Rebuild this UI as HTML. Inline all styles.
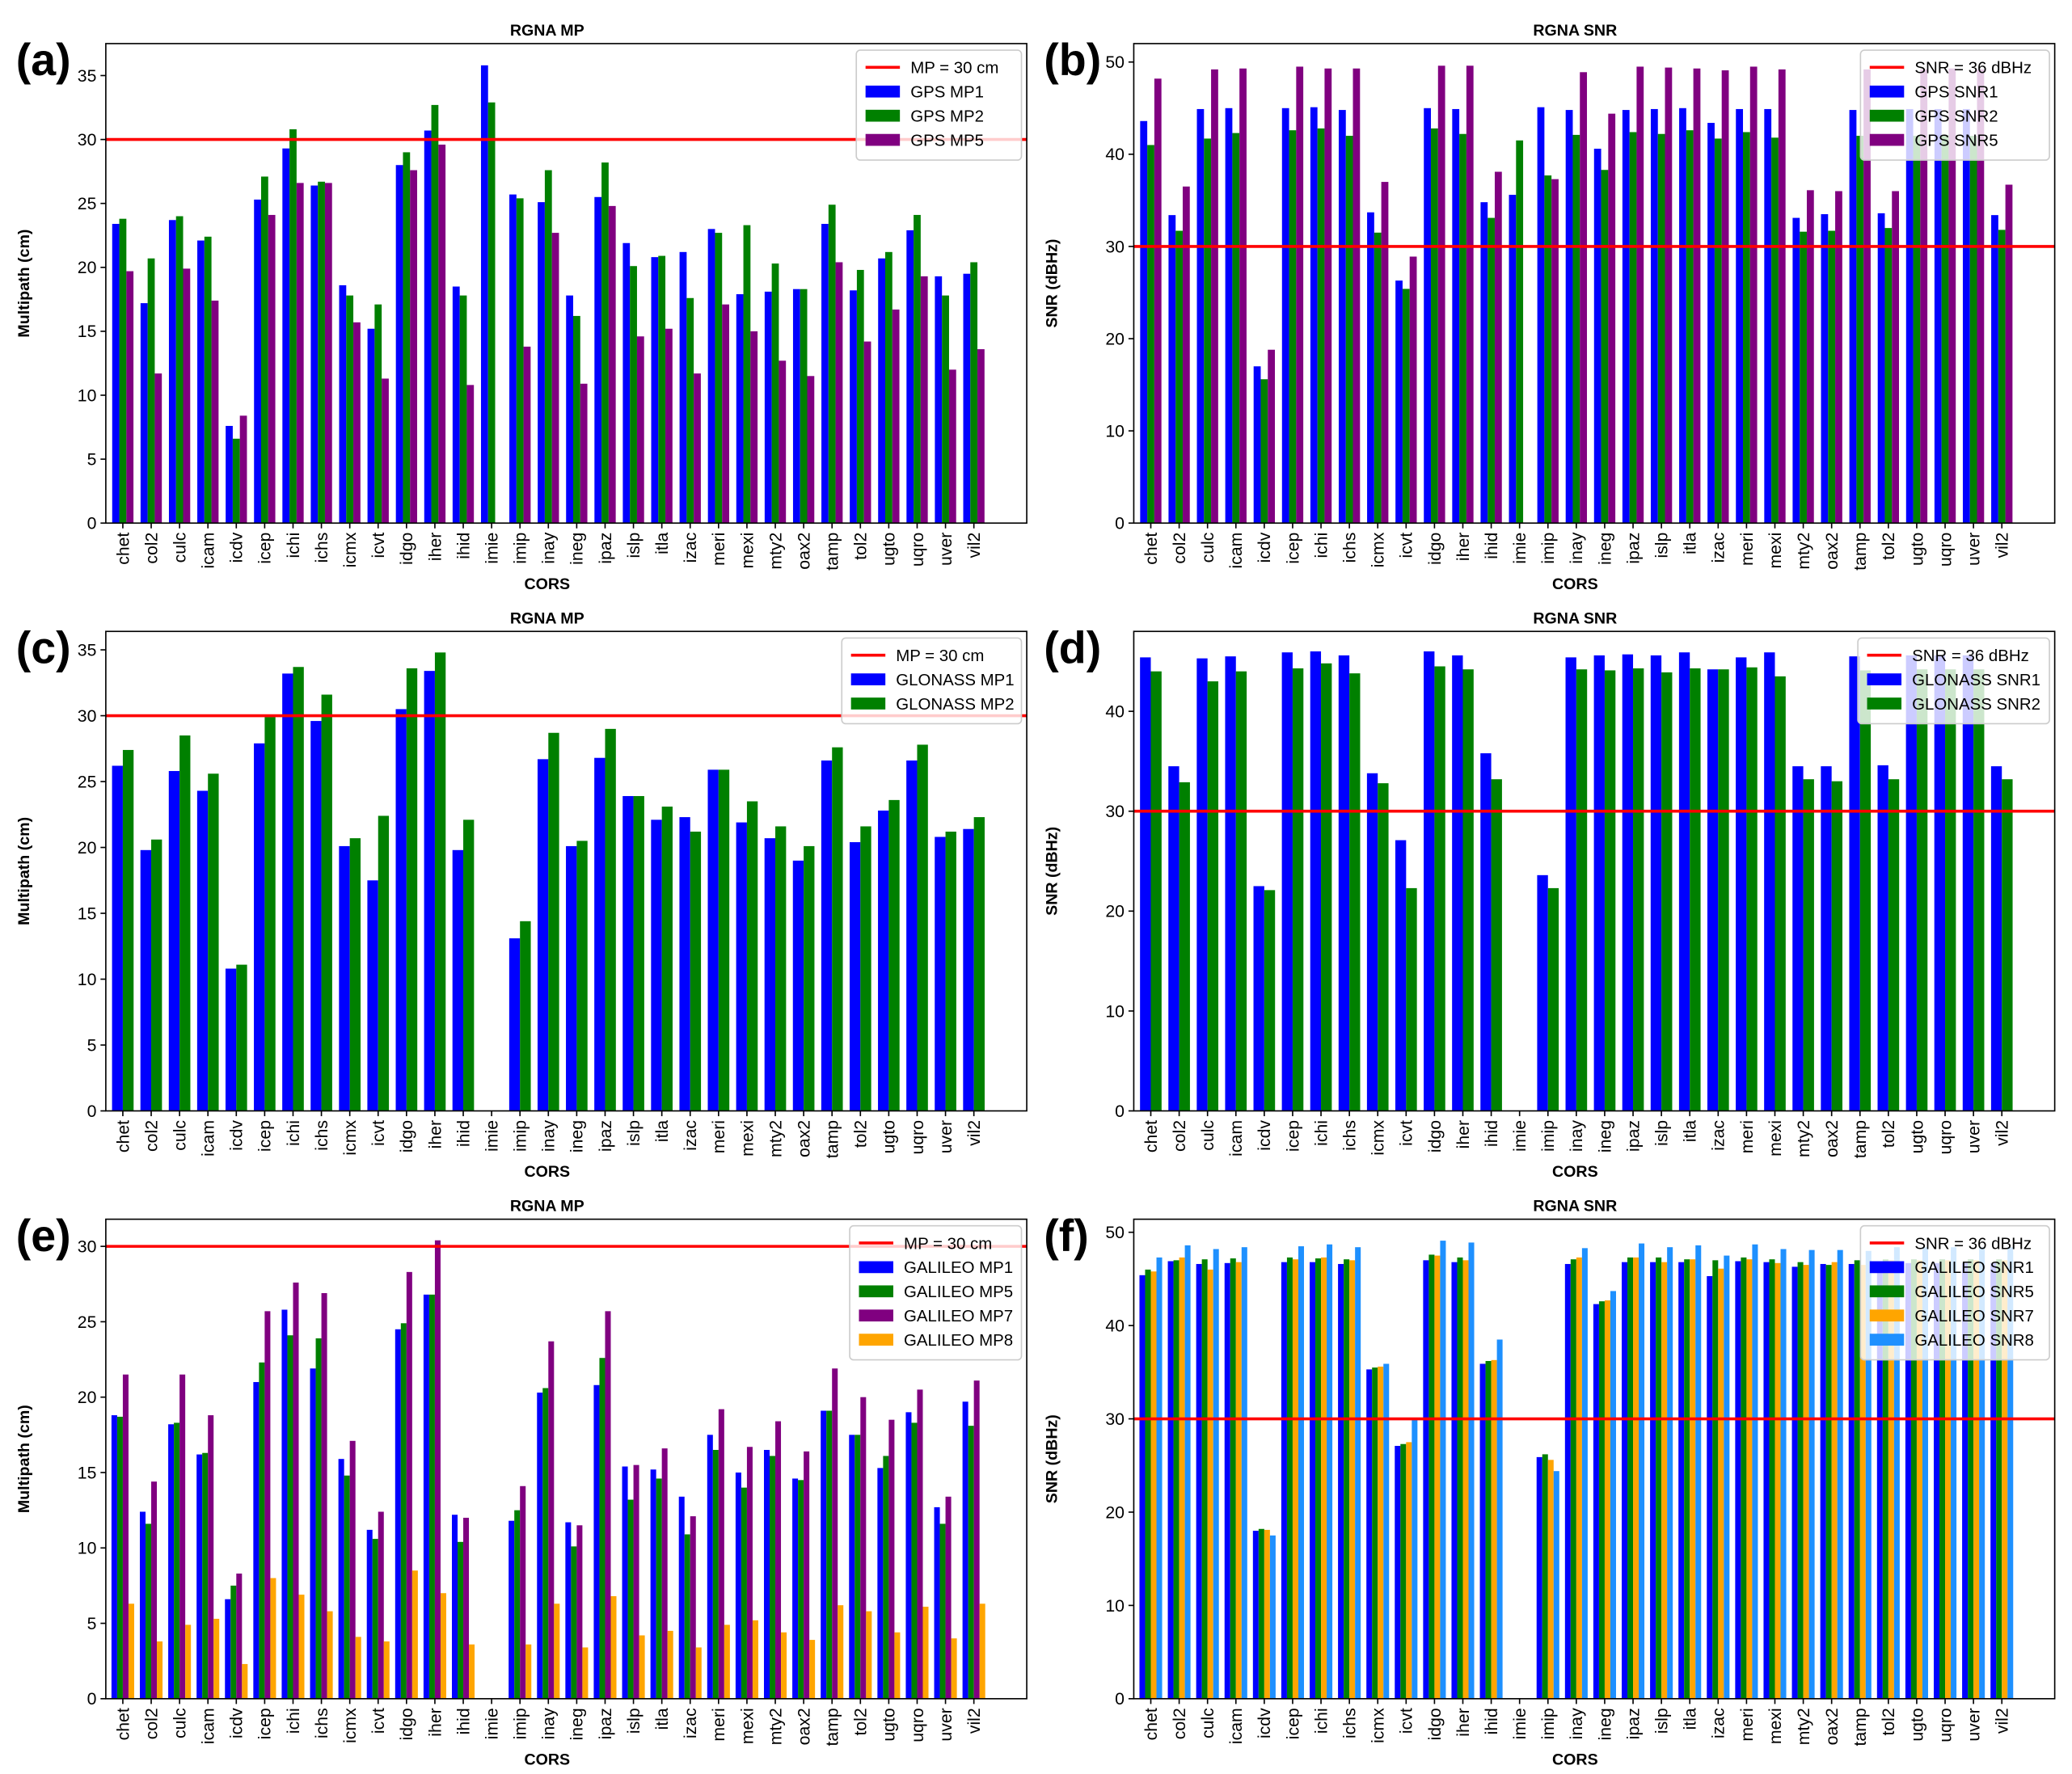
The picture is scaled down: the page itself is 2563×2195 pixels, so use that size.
<!DOCTYPE html>
<html><head><meta charset="utf-8"><style>
html,body{margin:0;padding:0;background:#fff}
svg{display:block}
text{font-family:"Liberation Sans","DejaVu Sans",sans-serif}
</style></head><body>
<svg id="fig" xmlns="http://www.w3.org/2000/svg" width="2563" height="2195" viewBox="0 0 1568 1343"></svg>
<script>
const stations = ["chet","col2","culc","icam","icdv","icep","ichi","ichs","icmx","icvt","idgo","iher","ihid","imie","imip","inay","ineg","ipaz","islp","itla","izac","meri","mexi","mty2","oax2","tamp","tol2","ugto","uqro","uver","vil2"];
const gpsMP1 = [23.4,17.2,23.7,22.1,7.6,25.3,29.3,26.4,18.6,15.2,28.0,30.7,18.5,35.8,25.7,25.1,17.8,25.5,21.9,20.8,21.2,23.0,17.9,18.1,18.3,23.4,18.2,20.7,22.9,19.3,19.5];
const gpsMP2 = [23.8,20.7,24.0,22.4,6.6,27.1,30.8,26.7,17.8,17.1,29.0,32.7,17.8,32.9,25.4,27.6,16.2,28.2,20.1,20.9,17.6,22.7,23.3,20.3,18.3,24.9,19.8,21.2,24.1,17.8,20.4];
const gpsMP5 = [19.7,11.7,19.9,17.4,8.4,24.1,26.6,26.6,15.7,11.3,27.6,29.6,10.8,0,13.8,22.7,10.9,24.8,14.6,15.2,11.7,17.1,15.0,12.7,11.5,20.4,14.2,16.7,19.3,12.0,13.6];
const gpsSNR1 = [43.6,33.4,44.9,45.0,17.0,45.0,45.1,44.8,33.7,26.3,45.0,44.9,34.8,35.6,45.1,44.8,40.6,44.8,44.9,45.0,43.4,44.9,44.9,33.1,33.5,44.8,33.6,44.9,44.9,44.9,33.4];
const gpsSNR2 = [41.0,31.7,41.7,42.3,15.6,42.6,42.8,42.0,31.5,25.4,42.8,42.2,33.1,41.5,37.7,42.1,38.3,42.4,42.2,42.6,41.7,42.4,41.8,31.6,31.7,42.0,32.0,42.0,42.1,42.0,31.8];
const gpsSNR5 = [48.2,36.5,49.2,49.3,18.8,49.5,49.3,49.3,37.0,28.9,49.6,49.6,38.1,0,37.3,48.9,44.4,49.5,49.4,49.3,49.1,49.5,49.2,36.1,36.0,49.2,36.0,49.2,49.3,49.2,36.7];
const gloMP1 = [26.2,19.8,25.8,24.3,10.8,27.9,33.2,29.6,20.1,17.5,30.5,33.4,19.8,0,13.1,26.7,20.1,26.8,23.9,22.1,22.3,25.9,21.9,20.7,19.0,26.6,20.4,22.8,26.6,20.8,21.4];
const gloMP2 = [27.4,20.6,28.5,25.6,11.1,29.9,33.7,31.6,20.7,22.4,33.6,34.8,22.1,0,14.4,28.7,20.5,29.0,23.9,23.1,21.2,25.9,23.5,21.6,20.1,27.6,21.6,23.6,27.8,21.2,22.3];
const gloSNR1 = [45.4,34.5,45.3,45.5,22.5,45.9,46.0,45.6,33.8,27.1,46.0,45.6,35.8,0,23.6,45.4,45.6,45.7,45.6,45.9,44.2,45.4,45.9,34.5,34.5,45.5,34.6,45.6,45.6,45.6,34.5];
const gloSNR2 = [44.0,32.9,43.0,44.0,22.1,44.3,44.8,43.8,32.8,22.3,44.5,44.2,33.2,0,22.3,44.2,44.1,44.3,43.9,44.3,44.2,44.4,43.5,33.2,33.0,44.1,33.2,44.2,44.2,44.2,33.2];
const galMP1 = [18.8,12.4,18.2,16.2,6.6,21.0,25.8,21.9,15.9,11.2,24.5,26.8,12.2,0,11.8,20.3,11.7,20.8,15.4,15.2,13.4,17.5,15.0,16.5,14.6,19.1,17.5,15.3,19.0,12.7,19.7];
const galMP5 = [18.7,11.6,18.3,16.3,7.5,22.3,24.1,23.9,14.8,10.6,24.9,26.8,10.4,0,12.5,20.6,10.1,22.6,13.2,14.6,10.9,16.5,14.0,16.1,14.5,19.1,17.5,16.1,18.3,11.6,18.1];
const galMP7 = [21.5,14.4,21.5,18.8,8.3,25.7,27.6,26.9,17.1,12.4,28.3,30.4,12.0,0,14.1,23.7,11.5,25.7,15.5,16.6,12.1,19.2,16.7,18.4,16.4,21.9,20.0,18.5,20.5,13.4,21.1];
const galMP8 = [6.3,3.8,4.9,5.3,2.3,8.0,6.9,5.8,4.1,3.8,8.5,7.0,3.6,0,3.6,6.3,3.4,6.8,4.2,4.5,3.4,4.9,5.2,4.4,3.9,6.2,5.8,4.4,6.1,4.0,6.3];
const galSNR1 = [45.4,46.9,46.6,46.7,18.0,46.8,46.8,46.6,35.3,27.1,47.0,46.8,35.9,0,25.9,46.6,42.3,46.8,46.8,46.8,45.3,46.9,46.8,46.3,46.6,46.6,46.7,46.7,46.7,46.7,46.7];
const galSNR5 = [46.0,47.0,47.1,47.2,18.2,47.3,47.2,47.1,35.5,27.3,47.6,47.3,36.2,0,26.2,47.1,42.6,47.3,47.3,47.1,47.0,47.3,47.1,46.8,46.5,47.0,47.1,47.1,47.1,47.1,47.1];
const galSNR7 = [45.8,47.3,46.0,46.8,18.1,47.1,47.3,47.0,35.6,27.5,47.5,47.0,36.3,0,25.6,47.3,42.7,47.3,46.8,47.1,46.1,47.1,46.7,46.5,46.8,46.5,47.0,47.0,47.0,47.0,47.0];
const galSNR8 = [47.3,48.6,48.2,48.4,17.5,48.5,48.7,48.4,35.9,29.9,49.1,48.9,38.5,0,24.4,48.3,43.7,48.8,48.4,48.6,47.5,48.7,48.2,48.1,48.1,48.0,48.4,48.4,48.4,48.4,48.4];
const yTicksMP = [0,5,10,15,20,25,30,35];
const yTicksSNR = [0,10,20,30,40,50];

const NS="http://www.w3.org/2000/svg";
const fig=document.getElementById('fig');
function mk(tag,attrs,parent,txt){const e=document.createElementNS(NS,tag);for(const k in attrs)e.setAttribute(k,attrs[k]);if(txt!==undefined)e.textContent=txt;(parent||fig).appendChild(e);return e;}

function panel(o){
  const g=mk('g',{});
  
  
  const L=o.left,R=o.left+697,T=o.top,B=o.top+363;
  const C=L+334;
  const sp=21.47;
  const xs=i=>L+(i+0.6)*sp;
  const ys=v=>B-(v/o.ymax)*(B-T);
  const n=o.series.length, bw=(n===4?0.2:(n===3?0.25:0.38))*sp;
  o.series.forEach((s,si)=>{
    s.values.forEach((v,i)=>{
      if(!v)return;
      const cx=xs(i)+(si-(n-1)/2)*bw;
      const r=mk('rect',{x:cx-bw/2,y:ys(v),width:bw,height:B-ys(v),fill:s.color},g);
      
      
    });
  });
  const th=mk('line',{x1:L,x2:R,y1:ys(30),y2:ys(30),stroke:'#ff0000','stroke-width':2.2},g);
  
  
  mk('rect',{x:L,y:T,width:R-L,height:B-T,fill:'none',stroke:'#000','stroke-width':1},g);
  o.yticks.forEach(t=>{
    if(t>o.ymax)return;
    const y=ys(t);
    mk('line',{x1:L-4,x2:L,y1:y,y2:y,stroke:'#000'},g);
    const tl=mk('text',{x:L-7,y:y+4.5,'font-size':13,'text-anchor':'end'},g,String(t));
    
    
  });
  stations.forEach((s,i)=>{
    const x=xs(i);
    mk('line',{x1:x,x2:x,y1:B,y2:B+4,stroke:'#000'},g);
    const tl=mk('text',{x:0,y:0,'font-size':13,'text-anchor':'end',transform:`translate(${x+4.5},${B+7}) rotate(-90)`},g,s);
    
    
  });
  const tt=mk('text',{x:C,y:T-6,'font-size':12,'font-weight':'bold','text-anchor':'middle'},g,o.title);
  
  
  const xl=mk('text',{x:C,y:B+50,'font-size':12,'font-weight':'bold','text-anchor':'middle'},g,'CORS');
  
  
  const yl=mk('text',{x:0,y:0,'font-size':12,'font-weight':'bold','text-anchor':'middle',transform:`translate(${L-58},${(T+B)/2}) rotate(-90)`},g,o.ylabel);
  
  
  const pl=mk('text',{x:L-68,y:T+24,'font-size':34,'font-weight':'bold'},g,o.letter);
  
  
  const items=[{label:o.thLabel,color:'#ff0000',line:true}].concat(o.series.map(s=>({label:s.label,color:s.color})));
  const lw=o.legW, lh=10+items.length*18.3;
  const lx=R-4-lw, ly=T+5;
  const lg=mk('g',{},g);
  
  
  mk('rect',{x:lx,y:ly,width:lw,height:lh,rx:3,fill:'#fff','fill-opacity':0.8,stroke:'#ccc'},lg);
  items.forEach((it,k)=>{
    const cy=ly+13+k*18.3;
    if(it.line) mk('line',{x1:lx+7,x2:lx+33,y1:cy,y2:cy,stroke:it.color,'stroke-width':2.2},lg);
    else mk('rect',{x:lx+7,y:cy-4.5,width:26,height:9,fill:it.color},lg);
    const et=mk('text',{x:lx+41,y:cy+4.5,'font-size':12.5},lg,it.label);
    
    
  });
}

const B='#0000ff',G='#008000',P='#800080',O='#ffa500',S='#1e90ff';
panel({name:'panel-a-gps-mp',letter:'(a)',left:80,top:33,ymax:37.5,yticks:yTicksMP,title:'RGNA MP',ylabel:'Multipath (cm)',thLabel:'MP = 30 cm',legW:125,
  series:[{key:'mp1',label:'GPS MP1',color:B,values:gpsMP1},{key:'mp2',label:'GPS MP2',color:G,values:gpsMP2},{key:'mp5',label:'GPS MP5',color:P,values:gpsMP5}]});
panel({name:'panel-b-gps-snr',letter:'(b)',left:858,top:33,ymax:52,yticks:yTicksSNR,title:'RGNA SNR',ylabel:'SNR (dBHz)',thLabel:'SNR = 36 dBHz',legW:143,
  series:[{key:'snr1',label:'GPS SNR1',color:B,values:gpsSNR1},{key:'snr2',label:'GPS SNR2',color:G,values:gpsSNR2},{key:'snr5',label:'GPS SNR5',color:P,values:gpsSNR5}]});
panel({name:'panel-c-glonass-mp',letter:'(c)',left:80,top:478,ymax:36.4,yticks:yTicksMP,title:'RGNA MP',ylabel:'Multipath (cm)',thLabel:'MP = 30 cm',legW:136,
  series:[{key:'mp1',label:'GLONASS MP1',color:B,values:gloMP1},{key:'mp2',label:'GLONASS MP2',color:G,values:gloMP2}]});
panel({name:'panel-d-glonass-snr',letter:'(d)',left:858,top:478,ymax:48,yticks:yTicksSNR,title:'RGNA SNR',ylabel:'SNR (dBHz)',thLabel:'SNR = 36 dBHz',legW:145,
  series:[{key:'snr1',label:'GLONASS SNR1',color:B,values:gloSNR1},{key:'snr2',label:'GLONASS SNR2',color:G,values:gloSNR2}]});
panel({name:'panel-e-galileo-mp',letter:'(e)',left:80,top:923,ymax:31.8,yticks:yTicksMP,title:'RGNA MP',ylabel:'Multipath (cm)',thLabel:'MP = 30 cm',legW:130,
  series:[{key:'mp1',label:'GALILEO MP1',color:B,values:galMP1},{key:'mp5',label:'GALILEO MP5',color:G,values:galMP5},{key:'mp7',label:'GALILEO MP7',color:P,values:galMP7},{key:'mp8',label:'GALILEO MP8',color:O,values:galMP8}]});
panel({name:'panel-f-galileo-snr',letter:'(f)',left:858,top:923,ymax:51.4,yticks:yTicksSNR,title:'RGNA SNR',ylabel:'SNR (dBHz)',thLabel:'SNR = 36 dBHz',legW:143,
  series:[{key:'snr1',label:'GALILEO SNR1',color:B,values:galSNR1},{key:'snr5',label:'GALILEO SNR5',color:G,values:galSNR5},{key:'snr7',label:'GALILEO SNR7',color:O,values:galSNR7},{key:'snr8',label:'GALILEO SNR8',color:S,values:galSNR8}]});
</script>
</body></html>
